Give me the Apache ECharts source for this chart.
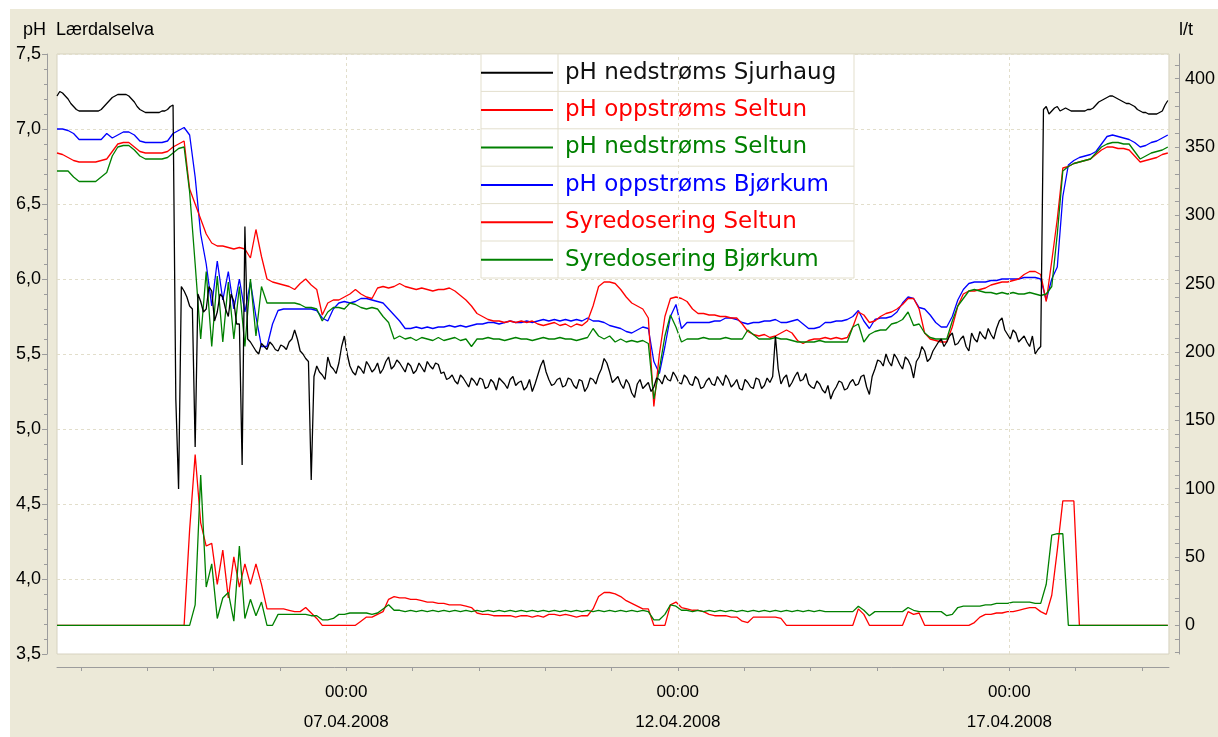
<!DOCTYPE html>
<html>
<head>
<meta charset="utf-8">
<script src="https://cdn.jsdelivr.net/npm/echarts@6/dist/echarts.min.js"></script>
<style>
  html, body { margin: 0; background: #fff; }
  #chart { width: 1218px; height: 737px; }
</style>
</head>
<body>
<div id="chart"></div>
<script>
// readings every 2 hours, first one 02.04.2008 15:20
const startTime = Date.UTC(2008, 3, 2, 15, 20)
const endTime = Date.UTC(2008, 3, 19, 9, 45)
const hourMs = 3600 * 1000

const dateLabels = [Date.UTC(2008, 3, 7), Date.UTC(2008, 3, 12), Date.UTC(2008, 3, 17)]
const phLabels = [3.5, 4.0, 4.5, 5.0, 5.5, 6.0, 6.5, 7.0, 7.5]
const doseLabels = [0, 50, 100, 150, 200, 250, 300, 350, 400]

// pH nedstrøms Sjurhaug, at the even hours (0, 2, 4 ... from start)
const sjurhaugEven = [
  7.22, 7.24, 7.2, 7.15, 7.12, 7.12, 7.12, 7.12, 7.13, 7.17,
  7.21, 7.23, 7.23, 7.22, 7.18, 7.13, 7.11, 7.11, 7.11, 7.12,
  7.13, 7.16, 4.6, 5.92, 5.82, 4.88, 5.85, 5.8, 5.92, 5.78,
  5.88, 5.75, 5.85, 5.7, 6.35, 5.58, 5.52, 5.57, 5.53, 5.56,
  5.52, 5.55, 5.58, 5.66, 5.52, 5.47, 4.66, 5.42, 5.36, 5.48,
  5.4, 5.44, 5.62, 5.42, 5.36, 5.4, 5.45, 5.38, 5.44, 5.4,
  5.48, 5.42, 5.44, 5.38, 5.42, 5.39, 5.41, 5.45, 5.4, 5.43,
  5.38, 5.34, 5.32, 5.36, 5.31, 5.34, 5.29, 5.33, 5.28, 5.31,
  5.34, 5.3, 5.33, 5.29, 5.32, 5.28, 5.25, 5.36, 5.46, 5.33,
  5.3, 5.34, 5.29, 5.33, 5.27, 5.32, 5.28, 5.33, 5.36, 5.47,
  5.38, 5.33, 5.3, 5.33, 5.24, 5.3, 5.27, 5.31, 5.28, 5.33,
  5.36, 5.32, 5.35, 5.3, 5.34, 5.29, 5.33, 5.28, 5.34, 5.29,
  5.32, 5.36, 5.28, 5.33, 5.26, 5.31, 5.27, 5.33, 5.29, 5.31,
  5.62, 5.3, 5.36, 5.31, 5.38, 5.33, 5.3, 5.27, 5.3, 5.24,
  5.2, 5.28, 5.31, 5.27, 5.33, 5.3, 5.36, 5.23, 5.4, 5.45,
  5.5, 5.42, 5.47, 5.4, 5.46, 5.34, 5.48, 5.52, 5.47, 5.55,
  5.6, 5.58, 5.64, 5.57, 5.62, 5.52, 5.6, 5.65, 5.6, 5.63,
  5.67, 5.74, 5.63, 5.66, 5.58, 5.62, 5.55, 5.5, 5.55, 7.15,
  7.12, 7.15, 7.13, 7.13, 7.12, 7.12, 7.12, 7.13, 7.16, 7.19,
  7.21, 7.22, 7.2, 7.18, 7.17, 7.15, 7.12, 7.11, 7.1, 7.1,
  7.12, 7.19
]

// pH nedstrøms Sjurhaug, at the odd hours (1, 3, 5 ... from start)
const sjurhaugOdd = [
  7.25, 7.22, 7.17, 7.13, 7.12, 7.12, 7.12, 7.12, 7.15, 7.19,
  7.22, 7.23, 7.23, 7.2, 7.15, 7.12, 7.11, 7.11, 7.11, 7.12,
  7.15, 5.2, 5.95, 5.88, 5.8, 5.9, 5.78, 5.95, 5.72, 5.9,
  5.8, 5.9, 5.7, 4.76, 5.6, 5.55, 5.5, 5.55, 5.58, 5.53,
  5.56, 5.53, 5.6, 5.6, 5.5, 5.45, 5.35, 5.38, 5.33, 5.42,
  5.37, 5.55, 5.5, 5.38, 5.42, 5.37, 5.42, 5.4, 5.37, 5.45,
  5.4, 5.46, 5.41, 5.44, 5.37, 5.44, 5.38, 5.42, 5.44, 5.37,
  5.33, 5.36, 5.3, 5.34, 5.28, 5.32, 5.34, 5.27, 5.33, 5.26,
  5.32, 5.27, 5.35, 5.31, 5.26, 5.33, 5.3, 5.42, 5.38, 5.29,
  5.33, 5.28, 5.34, 5.29, 5.33, 5.25, 5.34, 5.3, 5.4, 5.44,
  5.31, 5.35, 5.27, 5.3, 5.21, 5.33, 5.29, 5.25, 5.34, 5.3,
  5.33, 5.38, 5.31, 5.36, 5.3, 5.35, 5.27, 5.32, 5.3, 5.35,
  5.29, 5.33, 5.3, 5.27, 5.33, 5.28, 5.34, 5.27, 5.34, 5.35,
  5.4, 5.34, 5.28, 5.35, 5.32, 5.37, 5.28, 5.32, 5.26, 5.29,
  5.25, 5.32, 5.26, 5.31, 5.29, 5.35, 5.28, 5.35, 5.46, 5.42,
  5.45, 5.5, 5.43, 5.48, 5.42, 5.45, 5.55, 5.45, 5.52, 5.58,
  5.55, 5.62, 5.56, 5.6, 5.55, 5.64, 5.58, 5.62, 5.67, 5.6,
  5.72, 5.66, 5.6, 5.64, 5.6, 5.58, 5.62, 5.53, 7.13, 7.1,
  7.14, 7.12, 7.14, 7.12, 7.12, 7.12, 7.13, 7.14, 7.18, 7.2,
  7.22, 7.21, 7.19, 7.17, 7.16, 7.13, 7.11, 7.1, 7.1, 7.11,
  7.16
]

// pH oppstrøms Seltun
const seltunUp = [
  6.84, 6.83, 6.81, 6.79, 6.78, 6.78, 6.78, 6.78, 6.79, 6.8,
  6.85, 6.9, 6.91, 6.91, 6.88, 6.85, 6.84, 6.84, 6.84, 6.84,
  6.85, 6.88, 6.9, 6.92, 6.6, 6.5, 6.4, 6.3, 6.24, 6.22,
  6.22, 6.21, 6.2, 6.21, 6.2, 6.14, 6.33, 6.15, 6.0, 5.98,
  5.97, 5.96, 5.95, 5.93, 5.97, 6.0, 5.96, 5.93, 5.76, 5.84,
  5.86, 5.86, 5.88, 5.9, 5.93, 5.9, 5.88, 5.87, 5.94, 5.95,
  5.94, 5.95, 5.97, 5.95, 5.94, 5.93, 5.94, 5.93, 5.92, 5.93,
  5.93, 5.94, 5.92, 5.89, 5.86, 5.82, 5.77, 5.75, 5.73, 5.72,
  5.72, 5.71, 5.72, 5.71, 5.72, 5.71, 5.72, 5.7, 5.69, 5.7,
  5.71, 5.69, 5.7, 5.68, 5.7, 5.69, 5.72, 5.82, 5.95, 5.98,
  5.98, 5.97, 5.93, 5.88, 5.84, 5.82, 5.8, 5.74, 5.15, 5.5,
  5.75, 5.87, 5.88, 5.87, 5.85, 5.8, 5.77, 5.77, 5.76, 5.76,
  5.75, 5.75, 5.74, 5.74, 5.7, 5.65, 5.63, 5.62, 5.63, 5.61,
  5.62, 5.64, 5.66, 5.64, 5.59, 5.57, 5.59, 5.6, 5.6, 5.61,
  5.6, 5.61, 5.6, 5.61, 5.68, 5.78, 5.76, 5.71, 5.72, 5.75,
  5.77, 5.78, 5.8, 5.83, 5.87, 5.87, 5.8, 5.64, 5.6, 5.59,
  5.58, 5.58, 5.68, 5.82, 5.9, 5.92, 5.92, 5.93, 5.94, 5.96,
  5.97, 5.98, 5.98, 5.99, 6.0, 6.03, 6.05, 6.05, 6.03, 5.85,
  6.12, 6.4, 6.74, 6.75, 6.77, 6.78, 6.79, 6.8, 6.83, 6.86,
  6.88, 6.88, 6.87, 6.87, 6.86, 6.82, 6.78, 6.79, 6.8, 6.81,
  6.83, 6.84
]

// pH nedstrøms Seltun
const seltunDown = [
  6.72, 6.72, 6.72, 6.68, 6.65, 6.65, 6.65, 6.65, 6.68, 6.71,
  6.82, 6.88, 6.89, 6.89, 6.86, 6.82, 6.8, 6.8, 6.8, 6.8,
  6.81, 6.84, 6.87, 6.88, 6.58, 6.1, 5.6, 6.05, 5.55, 6.02,
  5.58, 5.98, 5.6, 5.95, 5.55, 6.0, 5.62, 5.95, 5.84, 5.84,
  5.84, 5.84, 5.84, 5.84, 5.83, 5.81, 5.81, 5.8, 5.72, 5.78,
  5.81, 5.81, 5.8, 5.84, 5.83, 5.81, 5.8, 5.81, 5.8, 5.75,
  5.71, 5.6, 5.62, 5.6, 5.61, 5.59, 5.61, 5.6, 5.59, 5.61,
  5.59, 5.6, 5.61, 5.59, 5.6, 5.55, 5.6, 5.6, 5.61, 5.6,
  5.6, 5.59, 5.6, 5.61, 5.6, 5.6, 5.59, 5.6, 5.61, 5.6,
  5.6, 5.61, 5.6, 5.6, 5.59, 5.6, 5.61, 5.67, 5.62, 5.6,
  5.62, 5.58, 5.6, 5.58, 5.59, 5.58, 5.59, 5.57, 5.2, 5.4,
  5.62, 5.76, 5.68, 5.58, 5.6, 5.6, 5.6, 5.61, 5.6, 5.6,
  5.6, 5.61, 5.6, 5.6, 5.6, 5.66, 5.63, 5.6, 5.6, 5.6,
  5.61, 5.6, 5.6, 5.59, 5.58, 5.58, 5.58, 5.58, 5.59, 5.58,
  5.58, 5.58, 5.58, 5.58, 5.68, 5.7, 5.58, 5.63, 5.65, 5.66,
  5.66, 5.7, 5.71, 5.73, 5.78, 5.69, 5.7, 5.64, 5.61, 5.6,
  5.6, 5.6, 5.72, 5.82, 5.87, 5.92, 5.93, 5.92, 5.91, 5.91,
  5.9, 5.91, 5.9, 5.91, 5.9, 5.9, 5.91, 5.9, 5.89, 5.9,
  5.95, 6.3, 6.72, 6.75, 6.77, 6.78, 6.79, 6.8, 6.84, 6.88,
  6.9, 6.91, 6.91, 6.9, 6.9, 6.85, 6.8, 6.82, 6.84, 6.85,
  6.86, 6.88
]

// pH oppstrøms Bjørkum
const bjorkumUp = [
  7.0, 7.0, 6.99, 6.97, 6.93, 6.93, 6.93, 6.93, 6.93, 6.97,
  6.94, 6.96, 6.98, 6.98, 6.96, 6.92, 6.91, 6.91, 6.91, 6.91,
  6.92, 6.97, 6.99, 7.01, 6.96, 6.68, 6.3, 6.1, 5.82, 6.12,
  5.86, 6.05, 5.8, 6.0, 5.78, 5.98, 5.75, 5.55, 5.55, 5.7,
  5.79, 5.8, 5.8, 5.8, 5.8, 5.8, 5.8, 5.79, 5.74, 5.72,
  5.8, 5.84, 5.85, 5.84, 5.85, 5.87, 5.87, 5.86, 5.85, 5.84,
  5.8, 5.76, 5.72, 5.67, 5.67, 5.68, 5.67, 5.68, 5.67, 5.68,
  5.68, 5.69, 5.68, 5.69, 5.68, 5.69, 5.7, 5.7, 5.71, 5.71,
  5.7, 5.71, 5.72, 5.71, 5.71, 5.72, 5.71, 5.72, 5.73, 5.72,
  5.73, 5.72, 5.73, 5.72, 5.73, 5.72, 5.74, 5.72, 5.72, 5.71,
  5.69, 5.68, 5.67, 5.65, 5.64, 5.66, 5.68, 5.67, 5.45, 5.37,
  5.55, 5.75, 5.83, 5.67, 5.71, 5.71, 5.71, 5.71, 5.71, 5.72,
  5.72, 5.74, 5.74, 5.73, 5.71, 5.7, 5.71, 5.71, 5.72, 5.72,
  5.73, 5.71, 5.71, 5.72, 5.73, 5.7, 5.67, 5.67, 5.68, 5.71,
  5.71, 5.72, 5.72, 5.73, 5.75, 5.79, 5.72, 5.67, 5.73, 5.74,
  5.74, 5.75, 5.78, 5.84, 5.88, 5.87, 5.81, 5.8, 5.76, 5.71,
  5.68, 5.68, 5.75, 5.86, 5.93, 5.97, 5.98, 5.98, 5.98, 5.99,
  5.99, 6.0, 6.0, 6.0, 6.0, 6.01, 6.01, 6.01, 6.0, 5.86,
  6.0, 6.08, 6.55, 6.76, 6.79, 6.81, 6.82, 6.83, 6.85, 6.9,
  6.95, 6.96, 6.95, 6.94, 6.93, 6.91, 6.88, 6.89, 6.91, 6.92,
  6.94, 6.96
]

// Syredosering Seltun, l/t
const doseSeltun = [
  0, 0, 0, 0, 0, 0, 0, 0, 0, 0,
  0, 0, 0, 0, 0, 0, 0, 0, 0, 0,
  0, 0, 0, 0, 70, 125, 75, 58, 60, 30,
  55, 20, 50, 28, 45, 30, 45, 30, 12, 12,
  12, 12, 11, 10, 10, 13, 9, 5, 0, 0,
  0, 0, 0, 0, 0, 3, 6, 6, 8, 10,
  19, 21, 20, 20, 19, 19, 18, 17, 17, 16,
  16, 15, 15, 15, 14, 13, 9, 8, 8, 7,
  7, 7, 7, 6, 7, 7, 6, 7, 6, 8,
  8, 7, 8, 7, 6, 7, 7, 12, 21, 24,
  24, 23, 21, 18, 16, 14, 12, 12, 0, 0,
  0, 15, 17, 13, 12, 11, 11, 10, 8, 7,
  7, 7, 6, 6, 3, 2, 6, 6, 6, 6,
  6, 5, 0, 0, 0, 0, 0, 0, 0, 0,
  0, 0, 0, 0, 0, 12, 8, 0, 0, 0,
  0, 0, 0, 0, 10, 8, 9, 0, 0, 0,
  0, 0, 0, 0, 0, 0, 2, 6, 8, 8,
  9, 9, 10, 10, 11, 12, 13, 13, 10, 8,
  22, 55, 91, 91, 91, 0, 0, 0, 0, 0,
  0, 0, 0, 0, 0, 0, 0, 0, 0, 0,
  0, 0
]

// Syredosering Bjørkum, l/t
const doseBjorkum = [
  0, 0, 0, 0, 0, 0, 0, 0, 0, 0,
  0, 0, 0, 0, 0, 0, 0, 0, 0, 0,
  0, 0, 0, 0, 0, 15, 110, 28, 45, 5,
  20, 24, 3, 58, 5, 19, 7, 17, 0, 0,
  8, 8, 8, 8, 8, 8, 7, 7, 4, 4,
  5, 8, 8, 9, 9, 9, 9, 8, 9, 12,
  15, 11, 11, 10, 11, 10, 11, 10, 11, 10,
  11, 10, 11, 10, 11, 10, 11, 10, 11, 10,
  11, 10, 11, 10, 11, 10, 11, 10, 11, 10,
  11, 10, 11, 10, 11, 10, 11, 10, 11, 10,
  11, 10, 11, 10, 11, 10, 11, 10, 4, 4,
  8, 15, 14, 11, 11, 10, 11, 10, 11, 10,
  11, 10, 11, 10, 11, 10, 11, 10, 11, 10,
  11, 10, 11, 10, 11, 10, 11, 10, 11, 10,
  10, 10, 10, 10, 10, 14, 11, 7, 10, 10,
  10, 10, 10, 10, 13, 11, 10, 10, 10, 10,
  10, 7, 8, 13, 14, 14, 14, 14, 15, 15,
  16, 16, 16, 17, 17, 17, 17, 16, 16, 30,
  66, 67, 67, 0, 0, 0, 0, 0, 0, 0,
  0, 0, 0, 0, 0, 0, 0, 0, 0, 0,
  0, 0
]

const toPoints = (vals) => vals.map((v, i) => [startTime + i * 2 * hourMs, v])
// merge the even-hour and odd-hour readings into one time-ordered list
const mergeHours = (even, odd) => {
  const pts = []
  even.forEach((v, i) => {
    pts.push([startTime + i * 2 * hourMs, v])
    if (i < odd.length) pts.push([startTime + (i * 2 + 1) * hourMs, odd[i]])
  })
  return pts
}

const dayTicks = []
for (let d = 3; d <= 19; d++) dayTicks.push(Date.UTC(2008, 3, d))
const doseTicks = []
for (let v = -20; v <= 410; v += 10) doseTicks.push(v)

const pad = (n) => (n < 10 ? '0' + n : '' + n)
const fmtDate = (v) => {
  const d = new Date(v)
  return pad(d.getUTCHours()) + ':' + pad(d.getUTCMinutes()) + '\n' +
    pad(d.getUTCDate()) + '.' + pad(d.getUTCMonth() + 1) + '.' + d.getUTCFullYear()
}

const axisGray = '#9c9c9c'
const gridDash = '#e2decb'
const font = 'Liberation Sans'
const tableLine = '#e3dfcd'

const line = (name, color, points, yAxisIndex) => ({
  name,
  type: 'line',
  data: points,
  yAxisIndex,
  color,
  symbol: 'none',
  lineStyle: { width: 1.3 },
  z: 2
})

const rowLines = [91.4, 128.8, 166.2, 203.6, 241].map((y) => ({
  type: 'line', shape: { x1: 481, y1: y, x2: 854, y2: y }, style: { stroke: tableLine, lineWidth: 1 }, z: 3
}))

const chart = echarts.init(document.getElementById('chart'))
chart.setOption({
  animation: false,
  backgroundColor: '#ece9d8',
  grid: {
    left: 57,
    right: 46,
    top: 54,
    bottom: 83,
    show: true,
    backgroundColor: '#fff',
    borderColor: '#d6d2c0',
    borderWidth: 1
  },
  legend: {
    left: 481,
    top: 54,
    orient: 'vertical',
    padding: 0,
    itemGap: 0,
    itemWidth: 72,
    itemHeight: 2,
    icon: 'rect',
    selectedMode: false,
    textStyle: { fontFamily: 'DejaVu Sans', fontSize: 23, lineHeight: 37.4, padding: [0, 0, 0, 7] },
    data: [
      { name: 'pH nedstrøms Sjurhaug', textStyle: { color: '#111' } },
      { name: 'pH oppstrøms Seltun', textStyle: { color: '#ff0000' } },
      { name: 'pH nedstrøms Seltun', textStyle: { color: '#008000' } },
      { name: 'pH oppstrøms Bjørkum', textStyle: { color: '#0000ff' } },
      { name: 'Syredosering Seltun', textStyle: { color: '#ff0000' } },
      { name: 'Syredosering Bjørkum', textStyle: { color: '#008000' } }
    ]
  },
  graphic: {
    elements: [
      { type: 'rect', shape: { x: 0, y: 0, width: 1218, height: 9 }, style: { fill: '#fff' }, z: 5 },
      { type: 'rect', shape: { x: 0, y: 0, width: 10, height: 737 }, style: { fill: '#fff' }, z: 5 },
      { type: 'text', x: 23, y: 21, style: { text: 'pH  Lærdalselva', fill: '#000', font: '18px "Liberation Sans"' }, z: 5 },
      { type: 'text', x: 1179, y: 21, style: { text: 'l/t', fill: '#000', font: '18px "Liberation Sans"' }, z: 5 },
      // legend table
      { type: 'rect', shape: { x: 481, y: 54, width: 373, height: 224 }, style: { fill: '#fff', stroke: tableLine, lineWidth: 1 }, z: 3 },
      { type: 'line', shape: { x1: 558, y1: 54, x2: 558, y2: 278 }, style: { stroke: tableLine, lineWidth: 1 }, z: 3 }
    ].concat(rowLines)
  },
  xAxis: {
    type: 'value',
    min: startTime,
    max: endTime,
    position: 'bottom',
    offset: 13,
    axisLine: { show: true, onZero: false, lineStyle: { color: axisGray } },
    axisTick: { show: true, customValues: dayTicks, length: 4, lineStyle: { color: axisGray } },
    axisLabel: {
      customValues: dateLabels,
      formatter: fmtDate,
      color: '#000',
      fontFamily: font,
      fontSize: 17,
      lineHeight: 30,
      margin: 10
    },
    splitLine: { show: false }
  },
  yAxis: [
    {
      type: 'value',
      min: 3.5,
      max: 7.5,
      interval: 0.5,
      position: 'left',
      offset: 10,
      axisLine: { show: true, onZero: false, lineStyle: { color: axisGray } },
      axisTick: { show: true, length: 5, lineStyle: { color: axisGray } },
      minorTick: { show: true, splitNumber: 5, length: 3, lineStyle: { color: axisGray } },
      axisLabel: {
        customValues: phLabels,
        color: '#000',
        fontFamily: font,
        fontSize: 18,
        margin: 6,
        formatter: (v) => v.toFixed(1).replace('.', ',')
      },
      splitLine: { show: true, lineStyle: { color: gridDash, type: [3, 3] } }
    },
    {
      type: 'value',
      min: -21,
      max: 418,
      position: 'right',
      offset: 10,
      axisLine: { show: true, onZero: false, lineStyle: { color: axisGray } },
      axisTick: { show: true, inside: true, customValues: doseTicks, length: 4, lineStyle: { color: axisGray } },
      axisLabel: { customValues: doseLabels, color: '#000', fontFamily: font, fontSize: 18, margin: 6 },
      splitLine: { show: false }
    }
  ],
  series: [
    {
      name: 'dagslinjer',
      type: 'line',
      data: [],
      z: 1,
      markLine: {
        silent: true,
        symbol: 'none',
        label: { show: false },
        lineStyle: { color: gridDash, type: [3, 3], width: 1 },
        data: dateLabels.map((t) => ({ xAxis: t }))
      }
    },
    line('pH oppstrøms Bjørkum', '#0000ff', toPoints(bjorkumUp), 0),
    line('pH oppstrøms Seltun', '#ff0000', toPoints(seltunUp), 0),
    line('pH nedstrøms Seltun', '#008000', toPoints(seltunDown), 0),
    line('pH nedstrøms Sjurhaug', '#000000', mergeHours(sjurhaugEven, sjurhaugOdd), 0),
    line('Syredosering Seltun', '#ff0000', toPoints(doseSeltun), 1),
    line('Syredosering Bjørkum', '#008000', toPoints(doseBjorkum), 1)
  ]
})
</script>
</body>
</html>
